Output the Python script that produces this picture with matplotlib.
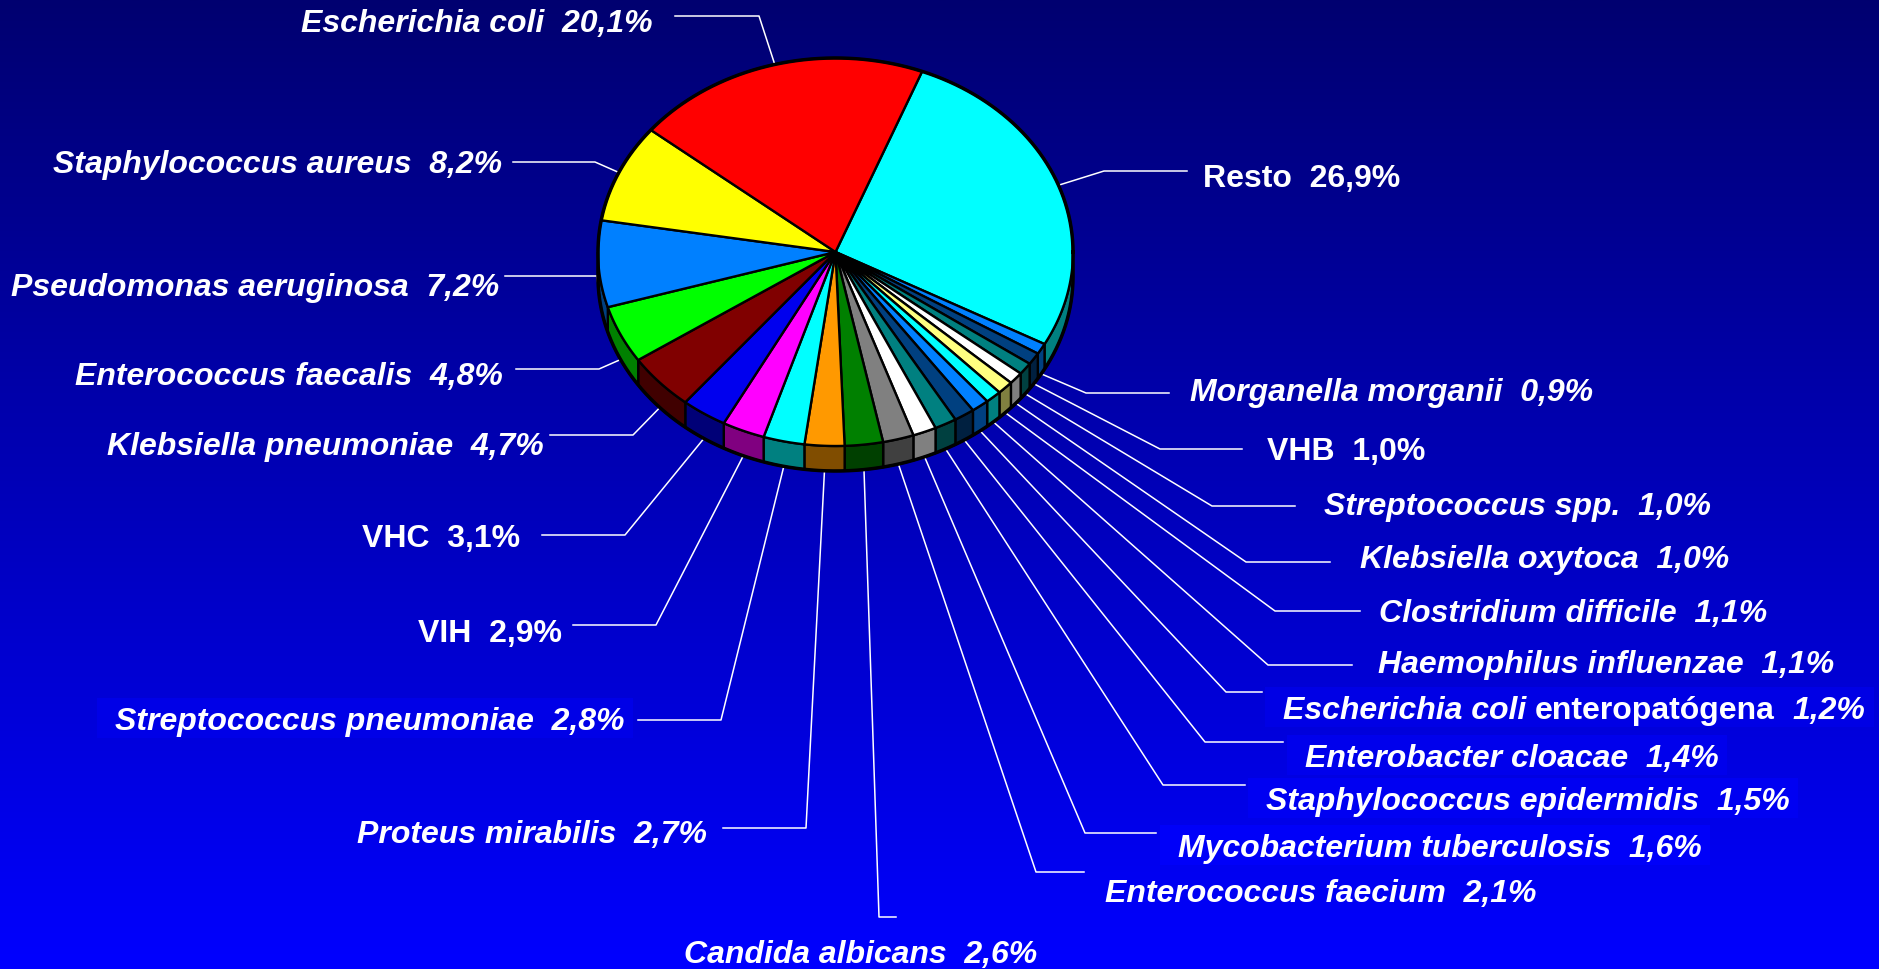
import numpy as np
import matplotlib.pyplot as plt
from matplotlib.patches import Polygon, Rectangle

# wedges, clockwise from "Resto"
names = ['Resto', 'Morganella morganii', 'VHB', 'Streptococcus spp.',
         'Klebsiella oxytoca', 'Clostridium difficile', 'Haemophilus influenzae',
         'Escherichia coli enteropatógena', 'Enterobacter cloacae',
         'Staphylococcus epidermidis', 'Mycobacterium tuberculosis',
         'Enterococcus faecium', 'Candida albicans', 'Proteus mirabilis',
         'Streptococcus pneumoniae', 'VIH', 'VHC', 'Klebsiella pneumoniae',
         'Enterococcus faecalis', 'Pseudomonas aeruginosa',
         'Staphylococcus aureus', 'Escherichia coli']
values = [26.9, 0.9, 1.0, 1.0, 1.0, 1.1, 1.1, 1.2, 1.4, 1.5, 1.6, 2.1,
          2.6, 2.7, 2.8, 2.9, 3.1, 4.7, 4.8, 7.2, 8.2, 20.1]
colors = ['#00ffff', '#0080ff', '#004080', '#008080', '#ffffff', '#ffff80',
          '#00ffff', '#0080ff', '#004080', '#008080', '#ffffff', '#808080',
          '#008000', '#ff9900', '#00ffff', '#ff00ff', '#0000ee', '#800000',
          '#00ff00', '#0080ff', '#ffff00', '#ff0000']
upright = ['Resto', 'VHB', 'VIH', 'VHC']
italic_prefix = {'Escherichia coli enteropatógena': 'Escherichia coli'}
boxed = ['Escherichia coli enteropatógena', 'Enterobacter cloacae',
         'Staphylococcus epidermidis', 'Mycobacterium tuberculosis',
         'Streptococcus pneumoniae']

# label layout in pixels: text anchor (baseline), leader elbow, leader end
label_x = [1203, 1190, 1267, 1324, 1360, 1379, 1378, 1283, 1305, 1266, 1178,
           1105, 861, 707, 625, 562, 520, 544, 503, 499, 502, 653]
label_y = [187, 401, 460, 515, 568, 622, 673, 719, 767, 810, 857,
           902, 963, 843, 730, 642, 547, 455, 385, 296, 173, 32]
label_ha = ['left'] * 12 + ['center'] + ['right'] * 9
elbow_x = [1104, 1086, 1160, 1212, 1246, 1275, 1268, 1226, 1205, 1163, 1085,
           1036, 879, 806, 721, 656, 625, 633, 599, 597, 595, 759]
elbow_y = [172, 394, 450, 507, 563, 612, 666, 693, 743, 786, 834,
           873, 918, 829, 721, 626, 536, 436, 370, 277, 163, 17]
end_x = [1187, 1169, 1242, 1295, 1330, 1360, 1352, 1262, 1283, 1245, 1156,
         1084, 896, 723, 638, 573, 542, 550, 516, 505, 513, 675]

W, H = 1879, 970
cx, cy = 835.5, 253
ra, rb = 237.5, 194
depth = 25
start_angle = 68.6
fs = 23
font = ['Liberation Sans', 'DejaVu Sans']
bg_top = 0x70 / 255


def ell(t, dz=0):
    r = np.radians(t)
    return cx + ra * np.cos(r), cy - rb * np.sin(r) + dz


def darker(c):
    rgb = np.array([int(c[i:i + 2], 16) for i in (1, 3, 5)]) / 255.0
    return tuple(rgb * 0.5)


fig = plt.figure(figsize=(W / 100, H / 100), dpi=100)
ax = fig.add_axes([0, 0, 1, 1])
ax.set_xlim(0, W)
ax.set_ylim(H, 0)
ax.axis('off')

# background gradient navy -> blue
grad = np.zeros((256, 1, 3))
grad[:, 0, 2] = np.linspace(bg_top, 1.0, 256)
ax.imshow(grad, extent=[0, W, H, 0], aspect='auto', zorder=0,
          interpolation='bilinear')

fracs = np.array(values) / sum(values)
bounds = start_angle - 360 * np.concatenate([[0], np.cumsum(fracs)])

for i in range(len(values)):
    t1, t2 = bounds[i], bounds[i + 1]
    lo, hi = max(t2, -180), min(t1, 0)
    if hi > lo:
        ts = np.linspace(hi, lo, 60)
        x, y = ell(ts)
        xb, yb = ell(ts[::-1], depth)
        ax.add_patch(Polygon(np.column_stack([np.r_[x, xb], np.r_[y, yb]]),
                             fc=darker(colors[i]), ec='black', lw=1.7,
                             zorder=3))
    ts = np.linspace(t1, t2, max(int(abs(t1 - t2) * 2), 4))
    x, y = ell(ts)
    pts = np.vstack([[cx, cy], np.column_stack([x, y])])
    ax.add_patch(Polygon(pts, fc=colors[i], ec='black', lw=1.7, zorder=4,
                         joinstyle='round'))

# outer outline
x1, y1 = ell(np.linspace(0, 180, 200))
x2, y2 = ell(np.linspace(180, 360, 200), depth)
ax.plot(np.r_[x1, x2, x1[0]], np.r_[y1, y2, y1[0]], color='black', lw=2.5,
        zorder=5)

# leaders
for i in range(len(values)):
    tm = (bounds[i] + bounds[i + 1]) / 2
    dz = depth if np.sin(np.radians(tm)) < 0 else 0
    px, py = ell(tm, dz)
    ax.plot([px, elbow_x[i], end_x[i]], [py, elbow_y[i], elbow_y[i]],
            color='white', lw=1.1, zorder=2)

renderer = fig.canvas.get_renderer()
inv = ax.transData.inverted()
space = 0.278 * fs * 100 / 72

for i, name in enumerate(names):
    pct = f'{values[i]:.1f}'.replace('.', ',') + '%'
    style = 'normal' if name in upright else 'italic'
    kw = dict(color='white', fontsize=fs, fontweight='bold', family=font,
              va='baseline', zorder=6)
    if name in italic_prefix:
        pre = italic_prefix[name]
        rest = name[len(pre):].strip()
        t = ax.text(label_x[i], label_y[i], pre, ha='left', style='italic', **kw)
        xe = inv.transform((t.get_window_extent(renderer).x1, 0))[0]
        t2 = ax.text(xe + space, label_y[i], rest, ha='left', style='normal', **kw)
        xe = inv.transform((t2.get_window_extent(renderer).x1, 0))[0]
        t3 = ax.text(xe + 2 * space, label_y[i], pct, ha='left', style='italic', **kw)
        x_right = inv.transform((t3.get_window_extent(renderer).x1, 0))[0]
        x_left = label_x[i]
    else:
        t = ax.text(label_x[i], label_y[i], name + '  ' + pct, ha=label_ha[i],
                    style=style, **kw)
        bb = t.get_window_extent(renderer)
        x_left = inv.transform((bb.x0, 0))[0]
        x_right = inv.transform((bb.x1, 0))[0]
    if name in boxed:
        # text box a shade lighter than the local background
        local = bg_top + (1 - bg_top) * (label_y[i] - 12) / H
        ax.add_patch(Rectangle((x_left - 18, label_y[i] - 31),
                               x_right - x_left + 26, 40,
                               fc=(0, 0, min(local + 0.05, 1.0)),
                               ec='none', zorder=2.5))

fig.savefig('out.png', dpi=100)
